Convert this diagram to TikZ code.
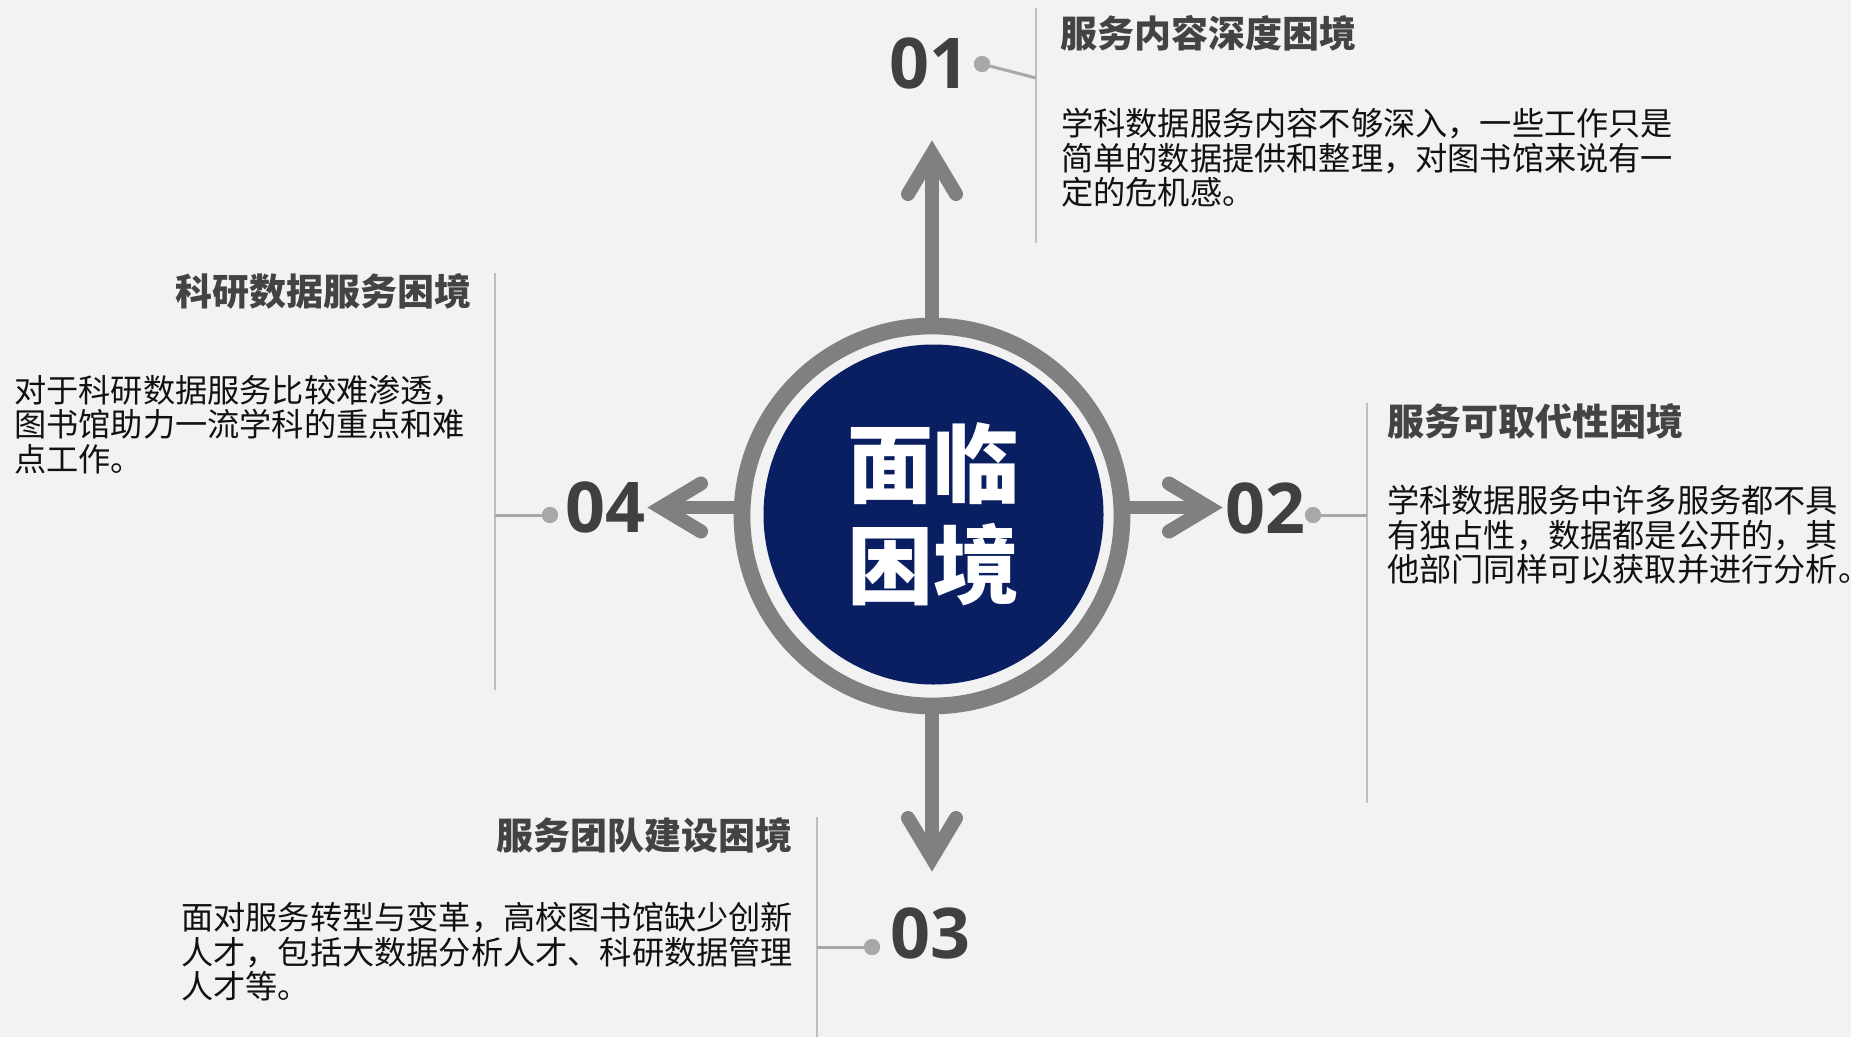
\documentclass[tikz,border=0pt]{standalone}
\usepackage{fontspec}
\newfontfamily\cjk{Noto Sans CJK SC}
\newfontfamily\numf{Open Sans}
\definecolor{bg}{HTML}{F2F2F2}
\definecolor{ringgray}{HTML}{808080}
\definecolor{navy}{HTML}{0A1F62}
\definecolor{numgray}{HTML}{404040}
\definecolor{titlegray}{HTML}{434343}
\definecolor{bodyblack}{HTML}{111111}
\definecolor{linegray}{HTML}{BFBFBF}
\definecolor{dotgray}{HTML}{A8A8A8}
\tikzset{
  thinline/.style={draw=linegray, line width=2pt},
  link/.style={draw=dotgray, line width=3pt},
  dotnode/.style={circle, fill=dotgray, minimum size=16pt, inner sep=0pt, outer sep=0pt},
  num/.style={font=\numf\bfseries\fontsize{70pt}{70pt}\selectfont, text=numgray, inner sep=0pt},
  headtxt/.style={font=\cjk\bfseries\fontsize{37pt}{40pt}\selectfont, text=titlegray, inner sep=0pt},
  bodytxt/.style={font=\cjk\fontsize{32.2pt}{34.5pt}\selectfont, text=bodyblack, inner sep=0pt, align=left},
  shaft/.style={draw=ringgray, line width=13.5pt},
  arrowhd/.style={draw=ringgray, line width=14pt, line cap=round, line join=miter},
}
\begin{document}
\begin{tikzpicture}[x=1pt,y=-1pt]
\fill[bg] (0,0) rectangle (1851,1037);
\useasboundingbox (0,0) rectangle (1851,1037);

% arrow tips (centre-line tips)
\coordinate (tipN) at (932,154);
\coordinate (tipS) at (932,858);
\coordinate (tipW) at (661,507.5);
\coordinate (tipE) at (1209,507.5);

% ring position helper
\coordinate (rc) at (932,516);

% shafts
\draw[shaft] (932,330) -- (tipN);
\draw[shaft] (932,702) -- (tipS);
\draw[shaft] (746,507.5) -- (tipW);
\draw[shaft] (1118,507.5) -- (tipE);

% ring and core
\node[circle, draw=ringgray, line width=16.7pt, minimum size=380pt, inner sep=0pt] (ring) at (rc) {};
\node[circle, fill=navy, minimum size=340pt, inner sep=0pt, text=white, align=center,
      font=\cjk\bfseries\fontsize{86pt}{101pt}\selectfont] (core) at (933.5,514.5) {面临\\困境};

% arrow heads
\draw[arrowhd] ([xshift=-24pt,yshift=-40pt]tipN) -- (tipN) -- ([xshift=24pt,yshift=-40pt]tipN);
\draw[arrowhd] ([xshift=-24pt,yshift=40pt]tipS) -- (tipS) -- ([xshift=24pt,yshift=40pt]tipS);
\draw[arrowhd] ([xshift=40pt,yshift=24pt]tipW) -- (tipW) -- ([xshift=40pt,yshift=-24pt]tipW);
\draw[arrowhd] ([xshift=-40pt,yshift=24pt]tipE) -- (tipE) -- ([xshift=-40pt,yshift=-24pt]tipE);

% ---- 01 ----
\node[num] (n1) at (929,63) {01};
\coordinate (v1a) at (1036,8);
\coordinate (v1b) at (1036,243);
\coordinate (j1) at (1036,78);
\draw[thinline] (v1a) -- (v1b);
\node[dotnode] (d1) at (982,64) {};
\draw[link] (d1.center) -- (j1);
\node[dotnode] at (d1) {};
\node[headtxt, anchor=north west] (t1) at (1060,15) {服务内容深度困境};
\node[bodytxt, anchor=north west] (b1) at (1061,108) {学科数据服务内容不够深入，一些工作只是\\简单的数据提供和整理，对图书馆来说有一\\定的危机感。};

% ---- 02 ----
\node[num] (n2) at (1265,508) {02};
\coordinate (v2a) at (1367,403);
\coordinate (v2b) at (1367,803);
\coordinate (j2) at (1367,515);
\draw[thinline] (v2a) -- (v2b);
\node[dotnode] (d2) at (1313,515) {};
\draw[link] (d2.center) -- (j2);
\node[dotnode] at (d2) {};
\node[headtxt, anchor=north west] (t2) at (1387,403) {服务可取代性困境};
\node[bodytxt, anchor=north west] (b2) at (1387,485) {学科数据服务中许多服务都不具\\有独占性，数据都是公开的，其\\他部门同样可以获取并进行分析\rlap{。}};

% ---- 03 ----
\node[num] (n3) at (930,933) {03};
\coordinate (v3a) at (817,817);
\coordinate (v3b) at (817,1037);
\coordinate (j3) at (817,947);
\draw[thinline] (v3a) -- (v3b);
\node[dotnode] (d3) at (872,947) {};
\draw[link] (d3.center) -- (j3);
\node[dotnode] at (d3) {};
\node[headtxt, anchor=north east] (t3) at (793,817) {服务团队建设困境};
\node[bodytxt, anchor=north west] (b3) at (181,902) {面对服务转型与变革，高校图书馆缺少创新\\人才，包括大数据分析人才、科研数据管理\\人才等。};

% ---- 04 ----
\node[num] (n4) at (605,507) {04};
\coordinate (v4a) at (495,273);
\coordinate (v4b) at (495,690);
\coordinate (j4) at (495,515);
\draw[thinline] (v4a) -- (v4b);
\node[dotnode] (d4) at (550,515) {};
\draw[link] (d4.center) -- (j4);
\node[dotnode] at (d4) {};
\node[headtxt, anchor=north east] (t4) at (472,273) {科研数据服务困境};
\node[bodytxt, anchor=north west] (b4) at (14,375) {对于科研数据服务比较难渗透，\\图书馆助力一流学科的重点和难\\点工作。};
\end{tikzpicture}
\end{document}
